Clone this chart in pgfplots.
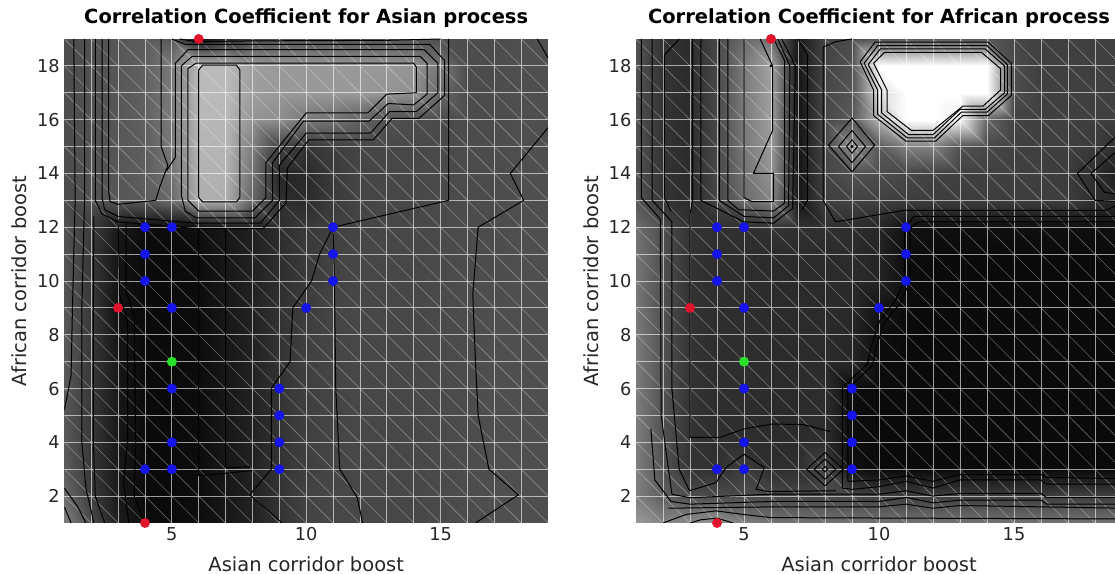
\documentclass[border=0pt]{standalone}
\usepackage{pgfplots}
\pgfplotsset{compat=1.18}
\usepackage{fontspec}
\setmainfont{DejaVu Sans}
\definecolor{tickgray}{RGB}{38,38,38}
\definecolor{dotblue}{RGB}{20,20,235}
\definecolor{dotred}{RGB}{225,20,45}
\definecolor{dotgreen}{RGB}{40,225,40}

\pgfplotsset{
  panel/.style={
    scale only axis, height=363pt,
    xmin=1,xmax=19,ymin=1,ymax=19,
    xtick={5,10,15}, ytick={2,4,...,18},
    axis line style={draw=none}, tick style={draw=none},
    tick label style={font=\fontsize{13.3pt}{16pt}\selectfont, text=tickgray},
    label style={font=\fontsize{14.6pt}{17pt}\selectfont, text=tickgray},
    title style={font=\fontsize{14.6pt}{17pt}\selectfont\bfseries, text=black, at={(axis description cs:0.5,1.0145)}, anchor=base},
    xlabel style={at={(axis description cs:0.5,-0.0995)}, anchor=base},
    ylabel style={at={(axis description cs:-0.0775,0.5)}, anchor=base},
    /pgf/number format/assume math mode=true,
    colormap/blackwhite, point meta min=0, point meta max=1,
    unbounded coords=jump, clip mode=individual,
    xlabel={Asian corridor boost}, ylabel={African corridor boost},
  },
  ct/.style={black, line width=0.75pt, line join=round},
}

\newcommand{\gridlines}{%
\addplot[white, opacity=0.6, line width=0.6pt] coordinates {
(2,1)(2,19)(nan,nan)(3,1)(3,19)(nan,nan)(4,1)(4,19)(nan,nan)(5,1)(5,19)(nan,nan)(6,1)(6,19)(nan,nan)(7,1)(7,19)(nan,nan)(8,1)(8,19)(nan,nan)(9,1)(9,19)(nan,nan)(10,1)(10,19)(nan,nan)(11,1)(11,19)(nan,nan)(12,1)(12,19)(nan,nan)(13,1)(13,19)(nan,nan)(14,1)(14,19)(nan,nan)(15,1)(15,19)(nan,nan)(16,1)(16,19)(nan,nan)(17,1)(17,19)(nan,nan)(18,1)(18,19)(nan,nan)
(1,2)(19,2)(nan,nan)(1,3)(19,3)(nan,nan)(1,4)(19,4)(nan,nan)(1,5)(19,5)(nan,nan)(1,6)(19,6)(nan,nan)(1,7)(19,7)(nan,nan)(1,8)(19,8)(nan,nan)(1,9)(19,9)(nan,nan)(1,10)(19,10)(nan,nan)(1,11)(19,11)(nan,nan)(1,12)(19,12)(nan,nan)(1,13)(19,13)(nan,nan)(1,14)(19,14)(nan,nan)(1,15)(19,15)(nan,nan)(1,16)(19,16)(nan,nan)(1,17)(19,17)(nan,nan)(1,18)(19,18)
};
\addplot[white, opacity=0.35, line width=0.45pt] coordinates {
(1,2)(2,1)(nan,nan)(1,3)(3,1)(nan,nan)(1,4)(4,1)(nan,nan)(1,5)(5,1)(nan,nan)(1,6)(6,1)(nan,nan)(1,7)(7,1)(nan,nan)(1,8)(8,1)(nan,nan)(1,9)(9,1)(nan,nan)(1,10)(10,1)(nan,nan)(1,11)(11,1)(nan,nan)(1,12)(12,1)(nan,nan)(1,13)(13,1)(nan,nan)(1,14)(14,1)(nan,nan)(1,15)(15,1)(nan,nan)(1,16)(16,1)(nan,nan)(1,17)(17,1)(nan,nan)(1,18)(18,1)(nan,nan)(1,19)(19,1)(nan,nan)
(2,19)(19,2)(nan,nan)(3,19)(19,3)(nan,nan)(4,19)(19,4)(nan,nan)(5,19)(19,5)(nan,nan)(6,19)(19,6)(nan,nan)(7,19)(19,7)(nan,nan)(8,19)(19,8)(nan,nan)(9,19)(19,9)(nan,nan)(10,19)(19,10)(nan,nan)(11,19)(19,11)(nan,nan)(12,19)(19,12)(nan,nan)(13,19)(19,13)(nan,nan)(14,19)(19,14)(nan,nan)(15,19)(19,15)(nan,nan)(16,19)(19,16)(nan,nan)(17,19)(19,17)(nan,nan)(18,19)(19,18)
};}

\newcommand{\markerdots}{%
\addplot[only marks, mark=*, mark size=3.5pt, color=dotblue] coordinates {
(4,12)(5,12)(4,11)(4,10)(5,9)(11,12)(11,11)(11,10)(10,9)(5,6)(5,4)(4,3)(5,3)(9,6)(9,5)(9,4)(9,3)};
\addplot[only marks, mark=*, mark size=3.5pt, color=dotred] coordinates {(6,19)(3,9)(4,1)};
\addplot[only marks, mark=*, mark size=3.5pt, color=dotgreen] coordinates {(5,7)};}

\begin{document}
\begin{tikzpicture}
\path[use as bounding box] (0,0) rectangle (836.25pt,430.5pt);

% ---------------- Left panel ----------------
\begin{axis}[panel, at={(48.3pt,38.25pt)}, anchor=south west, width=362.7pt,
  title={Correlation Coefficient for Asian process}]
\addplot[surf, shader=interp, mesh/cols=19, point meta=explicit] coordinates {
(1,1)[0.50](2,1)[0.30](3,1)[0.12](4,1)[0.05](5,1)[0.04](6,1)[0.05](7,1)[0.09](8,1)[0.13](9,1)[0.20](10,1)[0.26](11,1)[0.28](12,1)[0.28](13,1)[0.28](14,1)[0.28](15,1)[0.29](16,1)[0.30](17,1)[0.31](18,1)[0.31](19,1)[0.31]

(1,2)[0.42](2,2)[0.24](3,2)[0.10](4,2)[0.04](5,2)[0.04](6,2)[0.05](7,2)[0.09](8,2)[0.13](9,2)[0.20](10,2)[0.26](11,2)[0.28](12,2)[0.28](13,2)[0.28](14,2)[0.28](15,2)[0.29](16,2)[0.30](17,2)[0.31](18,2)[0.31](19,2)[0.31]

(1,3)[0.36](2,3)[0.22](3,3)[0.09](4,3)[0.04](5,3)[0.04](6,3)[0.05](7,3)[0.09](8,3)[0.13](9,3)[0.20](10,3)[0.25](11,3)[0.27](12,3)[0.28](13,3)[0.28](14,3)[0.28](15,3)[0.29](16,3)[0.30](17,3)[0.31](18,3)[0.31](19,3)[0.31]

(1,4)[0.35](2,4)[0.22](3,4)[0.09](4,4)[0.04](5,4)[0.04](6,4)[0.05](7,4)[0.09](8,4)[0.13](9,4)[0.20](10,4)[0.25](11,4)[0.27](12,4)[0.28](13,4)[0.28](14,4)[0.28](15,4)[0.29](16,4)[0.30](17,4)[0.31](18,4)[0.31](19,4)[0.31]

(1,5)[0.35](2,5)[0.22](3,5)[0.09](4,5)[0.04](5,5)[0.04](6,5)[0.05](7,5)[0.09](8,5)[0.13](9,5)[0.20](10,5)[0.25](11,5)[0.27](12,5)[0.28](13,5)[0.28](14,5)[0.28](15,5)[0.29](16,5)[0.30](17,5)[0.31](18,5)[0.31](19,5)[0.31]

(1,6)[0.35](2,6)[0.22](3,6)[0.09](4,6)[0.04](5,6)[0.04](6,6)[0.05](7,6)[0.09](8,6)[0.13](9,6)[0.20](10,6)[0.25](11,6)[0.27](12,6)[0.28](13,6)[0.28](14,6)[0.28](15,6)[0.29](16,6)[0.30](17,6)[0.31](18,6)[0.31](19,6)[0.31]

(1,7)[0.35](2,7)[0.22](3,7)[0.09](4,7)[0.04](5,7)[0.04](6,7)[0.05](7,7)[0.09](8,7)[0.13](9,7)[0.20](10,7)[0.25](11,7)[0.27](12,7)[0.28](13,7)[0.28](14,7)[0.28](15,7)[0.29](16,7)[0.30](17,7)[0.31](18,7)[0.31](19,7)[0.31]

(1,8)[0.35](2,8)[0.22](3,8)[0.08](4,8)[0.04](5,8)[0.04](6,8)[0.05](7,8)[0.09](8,8)[0.13](9,8)[0.20](10,8)[0.25](11,8)[0.27](12,8)[0.28](13,8)[0.28](14,8)[0.28](15,8)[0.29](16,8)[0.30](17,8)[0.31](18,8)[0.31](19,8)[0.31]

(1,9)[0.34](2,9)[0.22](3,9)[0.06](4,9)[0.04](5,9)[0.04](6,9)[0.05](7,9)[0.09](8,9)[0.13](9,9)[0.19](10,9)[0.24](11,9)[0.27](12,9)[0.28](13,9)[0.28](14,9)[0.28](15,9)[0.29](16,9)[0.30](17,9)[0.31](18,9)[0.31](19,9)[0.31]

(1,10)[0.33](2,10)[0.22](3,10)[0.08](4,10)[0.04](5,10)[0.04](6,10)[0.05](7,10)[0.09](8,10)[0.13](9,10)[0.18](10,10)[0.23](11,10)[0.26](12,10)[0.28](13,10)[0.28](14,10)[0.28](15,10)[0.29](16,10)[0.30](17,10)[0.30](18,10)[0.31](19,10)[0.31]

(1,11)[0.33](2,11)[0.22](3,11)[0.08](4,11)[0.04](5,11)[0.04](6,11)[0.05](7,11)[0.09](8,11)[0.13](9,11)[0.18](10,11)[0.23](11,11)[0.26](12,11)[0.28](13,11)[0.28](14,11)[0.28](15,11)[0.29](16,11)[0.30](17,11)[0.30](18,11)[0.31](19,11)[0.31]

(1,12)[0.32](2,12)[0.24](3,12)[0.10](4,12)[0.05](5,12)[0.05](6,12)[0.06](7,12)[0.09](8,12)[0.12](9,12)[0.18](10,12)[0.22](11,12)[0.25](12,12)[0.27](13,12)[0.28](14,12)[0.28](15,12)[0.29](16,12)[0.30](17,12)[0.30](18,12)[0.31](19,12)[0.31]

(1,13)[0.30](2,13)[0.32](3,13)[0.34](4,13)[0.36](5,13)[0.42](6,13)[0.68](7,13)[0.68](8,13)[0.40](9,13)[0.18](10,13)[0.17](11,13)[0.23](12,13)[0.27](13,13)[0.28](14,13)[0.28](15,13)[0.29](16,13)[0.30](17,13)[0.30](18,13)[0.31](19,13)[0.31]

(1,14)[0.30](2,14)[0.32](3,14)[0.34](4,14)[0.37](5,14)[0.45](6,14)[0.70](7,14)[0.70](8,14)[0.45](9,14)[0.15](10,14)[0.16](11,14)[0.23](12,14)[0.27](13,14)[0.28](14,14)[0.28](15,14)[0.29](16,14)[0.30](17,14)[0.30](18,14)[0.31](19,14)[0.31]

(1,15)[0.30](2,15)[0.32](3,15)[0.34](4,15)[0.37](5,15)[0.47](6,15)[0.71](7,15)[0.71](8,15)[0.50](9,15)[0.25](10,15)[0.20](11,15)[0.24](12,15)[0.27](13,15)[0.28](14,15)[0.28](15,15)[0.29](16,15)[0.30](17,15)[0.30](18,15)[0.31](19,15)[0.31]

(1,16)[0.30](2,16)[0.32](3,16)[0.34](4,16)[0.38](5,16)[0.48](6,16)[0.72](7,16)[0.72](8,16)[0.58](9,16)[0.55](10,16)[0.47](11,16)[0.44](12,16)[0.38](13,16)[0.32](14,16)[0.30](15,16)[0.29](16,16)[0.30](17,16)[0.30](18,16)[0.31](19,16)[0.31]

(1,17)[0.30](2,17)[0.32](3,17)[0.34](4,17)[0.38](5,17)[0.48](6,17)[0.73](7,17)[0.73](8,17)[0.62](9,17)[0.60](10,17)[0.60](11,17)[0.60](12,17)[0.60](13,17)[0.58](14,17)[0.56](15,17)[0.40](16,17)[0.30](17,17)[0.30](18,17)[0.31](19,17)[0.31]

(1,18)[0.30](2,18)[0.32](3,18)[0.34](4,18)[0.38](5,18)[0.48](6,18)[0.73](7,18)[0.73](8,18)[0.62](9,18)[0.60](10,18)[0.60](11,18)[0.60](12,18)[0.60](13,18)[0.60](14,18)[0.58](15,18)[0.46](16,18)[0.30](17,18)[0.30](18,18)[0.31](19,18)[0.31]

(1,19)[0.30](2,19)[0.32](3,19)[0.34](4,19)[0.36](5,19)[0.34](6,19)[0.06](7,19)[0.18](8,19)[0.30](9,19)[0.33](10,19)[0.33](11,19)[0.33](12,19)[0.33](13,19)[0.33](14,19)[0.33](15,19)[0.31](16,19)[0.30](17,19)[0.30](18,19)[0.31](19,19)[0.31]
};
\gridlines
% contours
\addplot[ct] coordinates {(6.0,13.1)(6.0,17.85)(6.15,18.03)(7.4,18.03)(7.53,17.85)(7.53,13.1)(7.4,12.94)(6.15,12.94)(6.0,13.1)};
\addplot[ct] coordinates {(5.6,13.0)(5.6,17.9)(5.9,18.1)(14.0,18.1)(14.1,17.95)(14.1,17.0)(13.0,16.95)(12.3,16.25)(10.0,16.25)(8.5,14.4)(8.5,13.1)(8.0,12.6)(6.0,12.6)(5.6,13.0)};
\addplot[ct] coordinates {(5.35,13.2)(5.35,18.0)(5.75,18.35)(14.25,18.35)(14.5,18.1)(14.5,16.95)(14.0,16.55)(13.05,16.6)(12.35,15.95)(9.9,15.95)(8.75,14.4)(8.75,13.0)(8.1,12.35)(5.9,12.35)(5.5,12.6)(5.35,13.2)};
\addplot[ct] coordinates {(4.8,14.1)(5.13,14.6)(5.13,18.1)(5.6,18.6)(14.4,18.6)(14.9,18.1)(14.9,17.0)(14.1,16.3)(13.1,16.3)(12.4,15.5)(10.0,15.5)(9.0,14.3)(9.0,13.0)(8.3,12.15)(5.9,12.15)(3.0,12.4)(2.5,12.65)(2.4,13.1)(2.4,19)};
\addplot[ct] coordinates {(4.6,19)(4.6,15.0)(4.85,14.3)(4.55,13.5)(4.4,13.0)(3.0,12.85)(2.7,12.95)(2.65,13.3)(2.65,19)};
\addplot[ct] coordinates {(2.15,19)(2.15,13.0)(2.4,12.5)(3.0,12.2)(5.9,11.95)(8.4,11.95)(9.25,12.9)(9.3,14.2)(10.1,15.25)(12.5,15.25)(13.2,16.05)(14.2,16.05)(15.15,16.9)(15.15,18.2)(14.6,18.8)(5.5,18.8)(5.0,19)};
\addplot[ct] coordinates {(5.3,19)(5.9,18.9)(8,18.93)(13,18.95)(15,19)};
\addplot[ct] coordinates {(1.35,19)(1.4,13)(1.3,9)(1.25,6.5)(1.0,5.2)};
\addplot[ct] coordinates {(1.75,19)(1.75,13)(1.65,9)(1.65,4)(1.8,2.3)(2.1,1.0)};
\addplot[ct] coordinates {(2.1,12.4)(2.08,9)(2.08,4)(2.15,2)(2.5,1.0)};
\addplot[ct] coordinates {(3.0,12.3)(3.05,9.5)(3.35,8.5)(3.35,4)(3.2,2.5)(3.4,1.0)};
\addplot[ct] coordinates {(3.3,12.2)(3.3,9.6)(3.6,8.7)(3.65,4)(3.6,2)(3.9,1.2)(4.3,1.0)};
\addplot[ct] coordinates {(6.0,11.95)(6.0,2.75)(8.0,2.95)};
\addplot[ct] coordinates {(7.0,11.95)(7.0,3.05)(7.9,3.1)};
\addplot[ct] coordinates {(9.1,1.0)(7.9,2.05)(8.7,3.0)(8.7,6.0)(9.4,7.0)(9.5,9.0)(10.2,10.0)(10.5,11.0)(11.0,12.0)(15.3,13.0)(15.3,19)};
\addplot[ct] coordinates {(12.1,1.0)(11.9,1.95)(11.25,3.0)(11.1,6)(11.05,10.0)(11.0,12.0)};
\addplot[ct] coordinates {(19,15.7)(17.6,14.0)(18.1,13.0)(16.4,12.0)(16.2,9.5)(16.3,7)(16.4,5)(16.8,3.0)(17.9,2.05)(16.3,1.0)};
\addplot[ct] coordinates {(18.6,19)(19,18.3)};
\addplot[ct] coordinates {(1.0,2.3)(1.5,1.6)(1.8,1.0)};
\addplot[ct] coordinates {(1.0,1.6)(1.25,1.0)};
\markerdots
\end{axis}

% ---------------- Right panel ----------------
\begin{axis}[panel, at={(477pt,38.25pt)}, anchor=south west, width=364.5pt,
  title={Correlation Coefficient for African process}]
\addplot[surf, shader=interp, mesh/cols=19, point meta=explicit] coordinates {
(1,1)[0.60](2,1)[0.52](3,1)[0.55](4,1)[0.60](5,1)[0.50](6,1)[0.46](7,1)[0.45](8,1)[0.45](9,1)[0.45](10,1)[0.45](11,1)[0.45](12,1)[0.45](13,1)[0.45](14,1)[0.45](15,1)[0.45](16,1)[0.45](17,1)[0.45](18,1)[0.45](19,1)[0.45]

(1,2)[0.50](2,2)[0.36](3,2)[0.30](4,2)[0.30](5,2)[0.30](6,2)[0.28](7,2)[0.28](8,2)[0.28](9,2)[0.27](10,2)[0.25](11,2)[0.24](12,2)[0.25](13,2)[0.24](14,2)[0.24](15,2)[0.24](16,2)[0.24](17,2)[0.25](18,2)[0.25](19,2)[0.25]

(1,3)[0.50](2,3)[0.32](3,3)[0.20](4,3)[0.19](5,3)[0.24](6,3)[0.18](7,3)[0.18](8,3)[0.28](9,3)[0.06](10,3)[0.04](11,3)[0.04](12,3)[0.04](13,3)[0.04](14,3)[0.04](15,3)[0.04](16,3)[0.04](17,3)[0.04](18,3)[0.04](19,3)[0.04]

(1,4)[0.49](2,4)[0.32](3,4)[0.20](4,4)[0.18](5,4)[0.18](6,4)[0.17](7,4)[0.17](8,4)[0.18](9,4)[0.05](10,4)[0.04](11,4)[0.04](12,4)[0.04](13,4)[0.04](14,4)[0.04](15,4)[0.04](16,4)[0.04](17,4)[0.04](18,4)[0.04](19,4)[0.04]

(1,5)[0.49](2,5)[0.32](3,5)[0.20](4,5)[0.18](5,5)[0.18](6,5)[0.17](7,5)[0.17](8,5)[0.18](9,5)[0.05](10,5)[0.04](11,5)[0.04](12,5)[0.04](13,5)[0.04](14,5)[0.04](15,5)[0.04](16,5)[0.04](17,5)[0.04](18,5)[0.04](19,5)[0.04]

(1,6)[0.49](2,6)[0.32](3,6)[0.20](4,6)[0.18](5,6)[0.18](6,6)[0.17](7,6)[0.17](8,6)[0.18](9,6)[0.05](10,6)[0.04](11,6)[0.04](12,6)[0.04](13,6)[0.04](14,6)[0.04](15,6)[0.04](16,6)[0.04](17,6)[0.04](18,6)[0.04](19,6)[0.04]

(1,7)[0.48](2,7)[0.32](3,7)[0.20](4,7)[0.18](5,7)[0.18](6,7)[0.17](7,7)[0.17](8,7)[0.17](9,7)[0.15](10,7)[0.05](11,7)[0.04](12,7)[0.04](13,7)[0.04](14,7)[0.04](15,7)[0.04](16,7)[0.04](17,7)[0.04](18,7)[0.04](19,7)[0.04]

(1,8)[0.48](2,8)[0.32](3,8)[0.20](4,8)[0.18](5,8)[0.18](6,8)[0.17](7,8)[0.17](8,8)[0.17](9,8)[0.15](10,8)[0.05](11,8)[0.04](12,8)[0.04](13,8)[0.04](14,8)[0.04](15,8)[0.04](16,8)[0.04](17,8)[0.04](18,8)[0.04](19,8)[0.04]

(1,9)[0.47](2,9)[0.31](3,9)[0.20](4,9)[0.18](5,9)[0.18](6,9)[0.17](7,9)[0.17](8,9)[0.17](9,9)[0.16](10,9)[0.08](11,9)[0.04](12,9)[0.04](13,9)[0.04](14,9)[0.04](15,9)[0.04](16,9)[0.04](17,9)[0.04](18,9)[0.04](19,9)[0.04]

(1,10)[0.46](2,10)[0.31](3,10)[0.20](4,10)[0.18](5,10)[0.18](6,10)[0.17](7,10)[0.17](8,10)[0.17](9,10)[0.17](10,10)[0.14](11,10)[0.05](12,10)[0.04](13,10)[0.04](14,10)[0.04](15,10)[0.04](16,10)[0.04](17,10)[0.04](18,10)[0.04](19,10)[0.04]

(1,11)[0.46](2,11)[0.31](3,11)[0.20](4,11)[0.18](5,11)[0.18](6,11)[0.17](7,11)[0.17](8,11)[0.17](9,11)[0.17](10,11)[0.14](11,11)[0.05](12,11)[0.04](13,11)[0.04](14,11)[0.04](15,11)[0.04](16,11)[0.04](17,11)[0.04](18,11)[0.04](19,11)[0.04]

(1,12)[0.44](2,12)[0.30](3,12)[0.20](4,12)[0.19](5,12)[0.19](6,12)[0.20](7,12)[0.19](8,12)[0.19](9,12)[0.18](10,12)[0.15](11,12)[0.07](12,12)[0.06](13,12)[0.06](14,12)[0.06](15,12)[0.06](16,12)[0.06](17,12)[0.06](18,12)[0.06](19,12)[0.07]

(1,13)[0.33](2,13)[0.20](3,13)[0.17](4,13)[0.27](5,13)[0.42](6,13)[0.52](7,13)[0.09](8,13)[0.25](9,13)[0.26](10,13)[0.25](11,13)[0.24](12,13)[0.24](13,13)[0.24](14,13)[0.24](15,13)[0.24](16,13)[0.24](17,13)[0.24](18,13)[0.18](19,13)[0.14]

(1,14)[0.32](2,14)[0.20](3,14)[0.17](4,14)[0.28](5,14)[0.45](6,14)[0.58](7,14)[0.08](8,14)[0.27](9,14)[0.32](10,14)[0.30](11,14)[0.28](12,14)[0.26](13,14)[0.25](14,14)[0.25](15,14)[0.25](16,14)[0.25](17,14)[0.23](18,14)[0.18](19,14)[0.10]

(1,15)[0.32](2,15)[0.20](3,15)[0.17](4,15)[0.28](5,15)[0.47](6,15)[0.60](7,15)[0.08](8,15)[0.28](9,15)[0.55](10,15)[0.35](11,15)[0.50](12,15)[0.50](13,15)[0.32](14,15)[0.28](15,15)[0.25](16,15)[0.25](17,15)[0.25](18,15)[0.23](19,15)[0.18]

(1,16)[0.32](2,16)[0.20](3,16)[0.17](4,16)[0.28](5,16)[0.48](6,16)[0.62](7,16)[0.08](8,16)[0.28](9,16)[0.35](10,16)[0.70](11,16)[1.50](12,16)[1.50](13,16)[0.95](14,16)[0.40](15,16)[0.26](16,16)[0.25](17,16)[0.25](18,16)[0.25](19,16)[0.25]

(1,17)[0.32](2,17)[0.20](3,17)[0.17](4,17)[0.28](5,17)[0.48](6,17)[0.62](7,17)[0.08](8,17)[0.28](9,17)[0.33](10,17)[0.85](11,17)[1.50](12,17)[1.50](13,17)[1.50](14,17)[1.50](15,17)[0.30](16,17)[0.25](17,17)[0.25](18,17)[0.25](19,17)[0.25]

(1,18)[0.32](2,18)[0.20](3,18)[0.17](4,18)[0.28](5,18)[0.48](6,18)[0.64](7,18)[0.08](8,18)[0.27](9,18)[0.32](10,18)[1.00](11,18)[1.50](12,18)[1.50](13,18)[1.50](14,18)[1.40](15,18)[0.30](16,18)[0.25](17,18)[0.25](18,18)[0.25](19,18)[0.25]

(1,19)[0.32](2,19)[0.20](3,19)[0.17](4,19)[0.28](5,19)[0.42](6,19)[0.45](7,19)[0.10](8,19)[0.26](9,19)[0.30](10,19)[0.34](11,19)[0.36](12,19)[0.36](13,19)[0.36](14,19)[0.35](15,19)[0.28](16,19)[0.25](17,19)[0.25](18,19)[0.25](19,19)[0.25]
};
\gridlines
% contours
\addplot[ct] coordinates {(9.8,18.1)(10.2,18.5)(13.8,18.5)(14.5,17.9)(14.5,17.1)(13.85,16.5)(13.1,16.5)(12.0,15.6)(11.2,15.6)(10.3,16.3)(10.3,17.1)(9.8,18.1)};
\addplot[ct] coordinates {(9.6,18.05)(10.05,18.63)(13.93,18.63)(14.65,18.0)(14.65,17.0)(13.93,16.38)(13.0,16.38)(12.0,15.44)(11.1,15.44)(10.1,16.25)(10.1,17.1)(9.6,18.05)};
\addplot[ct] coordinates {(9.45,18.1)(9.95,18.75)(14.0,18.75)(14.75,18.05)(14.75,16.95)(14.0,16.28)(13.05,16.28)(12.05,15.32)(11.05,15.32)(9.95,16.2)(9.95,17.1)(9.45,18.1)};
\addplot[ct] coordinates {(9.3,18.15)(9.85,18.88)(14.05,18.88)(14.9,18.1)(14.9,16.9)(14.05,16.15)(13.1,16.15)(12.1,15.2)(11.0,15.2)(9.8,16.15)(9.8,17.1)(9.3,18.15)};
\addplot[ct] coordinates {(8.13,15.05)(9.0,16.06)(9.84,15.05)(9.0,14.06)(8.13,15.05)};
\addplot[ct] coordinates {(8.5,15.0)(9.0,15.6)(9.5,15.0)(9.0,14.4)(8.5,15.0)};
\addplot[ct] coordinates {(8.8,15.0)(9.0,15.25)(9.2,15.0)(9.0,14.75)(8.8,15.0)};
\addplot[ct] coordinates {(9.0,19)(8.4,18.9)(7.93,18.7)(7.93,13.0)(8.39,12.2)(10.96,12.63)(18.4,12.63)(19,12.9)};
\addplot[ct] coordinates {(19,15.6)(17.35,14.0)(18.0,13.0)(19,12.95)};
\addplot[ct] coordinates {(19,15.0)(17.85,14.0)(18.35,13.3)(19,13.2)};
\addplot[ct] coordinates {(8.64,2.3)(8.64,6.04)(9.57,6.91)(9.7,7.53)(10.03,8.53)(10.6,9.27)(10.95,10.02)(10.95,12.0)(11.3,12.4)(19,12.4)};
\addplot[ct] coordinates {(8.85,2.55)(8.85,6.0)(9.75,6.85)(9.9,7.55)(10.2,8.45)(10.8,9.2)(11.15,10.0)(11.15,11.95)(11.45,12.2)(19,12.2)};
\addplot[ct] coordinates {(8.64,2.3)(9.0,2.25)(10,2.35)(11,2.55)(12,2.3)(13,2.6)(16,2.6)(16.2,2.45)(19,2.45)};
\addplot[ct] coordinates {(8.85,2.55)(10,2.6)(11,2.75)(12,2.55)(13,2.8)(16,2.8)(16.2,2.7)(19,2.65)};
\addplot[ct] coordinates {(1.2,19)(1.2,13.1)(1.9,12.3)(1.93,5.0)(2.33,2.07)(3.0,1.94)(6.0,2.07)(10,2.07)(11,2.2)(12,2.0)(13,2.1)(16,2.1)(16.2,1.95)(19,1.95)};
\addplot[ct] coordinates {(1.6,19)(1.6,13.0)(2.33,12.2)(2.33,6.0)(2.6,3.0)(2.98,2.2)(3.96,2.5)(4.33,3.06)(5.0,3.56)(5.75,3.06)(5.45,2.25)(5.9,2.17)(8.4,2.2)};
\addplot[ct] coordinates {(2.0,1.0)(2.86,1.32)(3.97,1.45)(4.96,1.32)(6.0,1.2)(19,1.15)};
\addplot[ct] coordinates {(3.0,1.0)(3.4,1.12)(4.0,1.18)(4.6,1.0)};
\addplot[ct] coordinates {(1.55,4.5)(1.7,2.6)(2.3,1.8)(3,1.7)(6,1.8)(10,1.8)(11,1.95)(12,1.75)(13,1.85)(16,1.85)(16.2,1.7)(19,1.7)};
\addplot[ct] coordinates {(2.2,1.55)(6,1.6)(10,1.6)(11,1.7)(12,1.55)(13,1.65)(19,1.55)};
\addplot[ct] coordinates {(3.1,19)(3.1,13.0)(3.0,12.5)(3.0,4.18)(4.1,4.18)(5.0,4.5)(6.06,4.68)(7.2,4.66)(8.2,4.4)};
\addplot[ct] coordinates {(2.6,19)(2.05,18.4)(2.05,13.1)(2.3,12.6)};
\addplot[ct] coordinates {(3.4,19)(3.4,13.0)(4.0,12.7)(5.0,12.2)(6.1,12.15)(6.8,12.7)(6.9,18.0)(6.4,19)};
\addplot[ct] coordinates {(4.09,19)(4.09,13.0)(5.0,12.4)(6.1,12.35)(6.65,12.8)(6.7,18.0)(6.25,19)};
\addplot[ct] coordinates {(4.4,19)(4.4,13.0)(4.8,12.65)(6.1,12.6)(6.5,12.9)(6.5,18.2)(6.1,19)};
\addplot[ct] coordinates {(5.0,19)(5.0,13.1)(5.3,12.95)(6.1,12.95)(6.1,14.0)(5.35,14.0)(6.06,15.6)(6.06,18.0)(5.6,19)};
\addplot[ct] coordinates {(7.0,19)(7.35,18.4)(7.35,13.0)(7.15,12.65)};
\addplot[ct] coordinates {(7.32,3)(8,3.62)(8.68,3)(8,2.38)(7.32,3)};
\addplot[ct] coordinates {(7.6,3)(8,3.37)(8.4,3)(8,2.63)(7.6,3)};
\addplot[ct] coordinates {(7.9,3)(8,3.1)(8.1,3)(8,2.9)(7.9,3)};
\addplot[only marks, mark=*, mark size=0.9pt, black] coordinates {(6,18)(9,15)};
\markerdots
\end{axis}
\end{tikzpicture}
\end{document}
